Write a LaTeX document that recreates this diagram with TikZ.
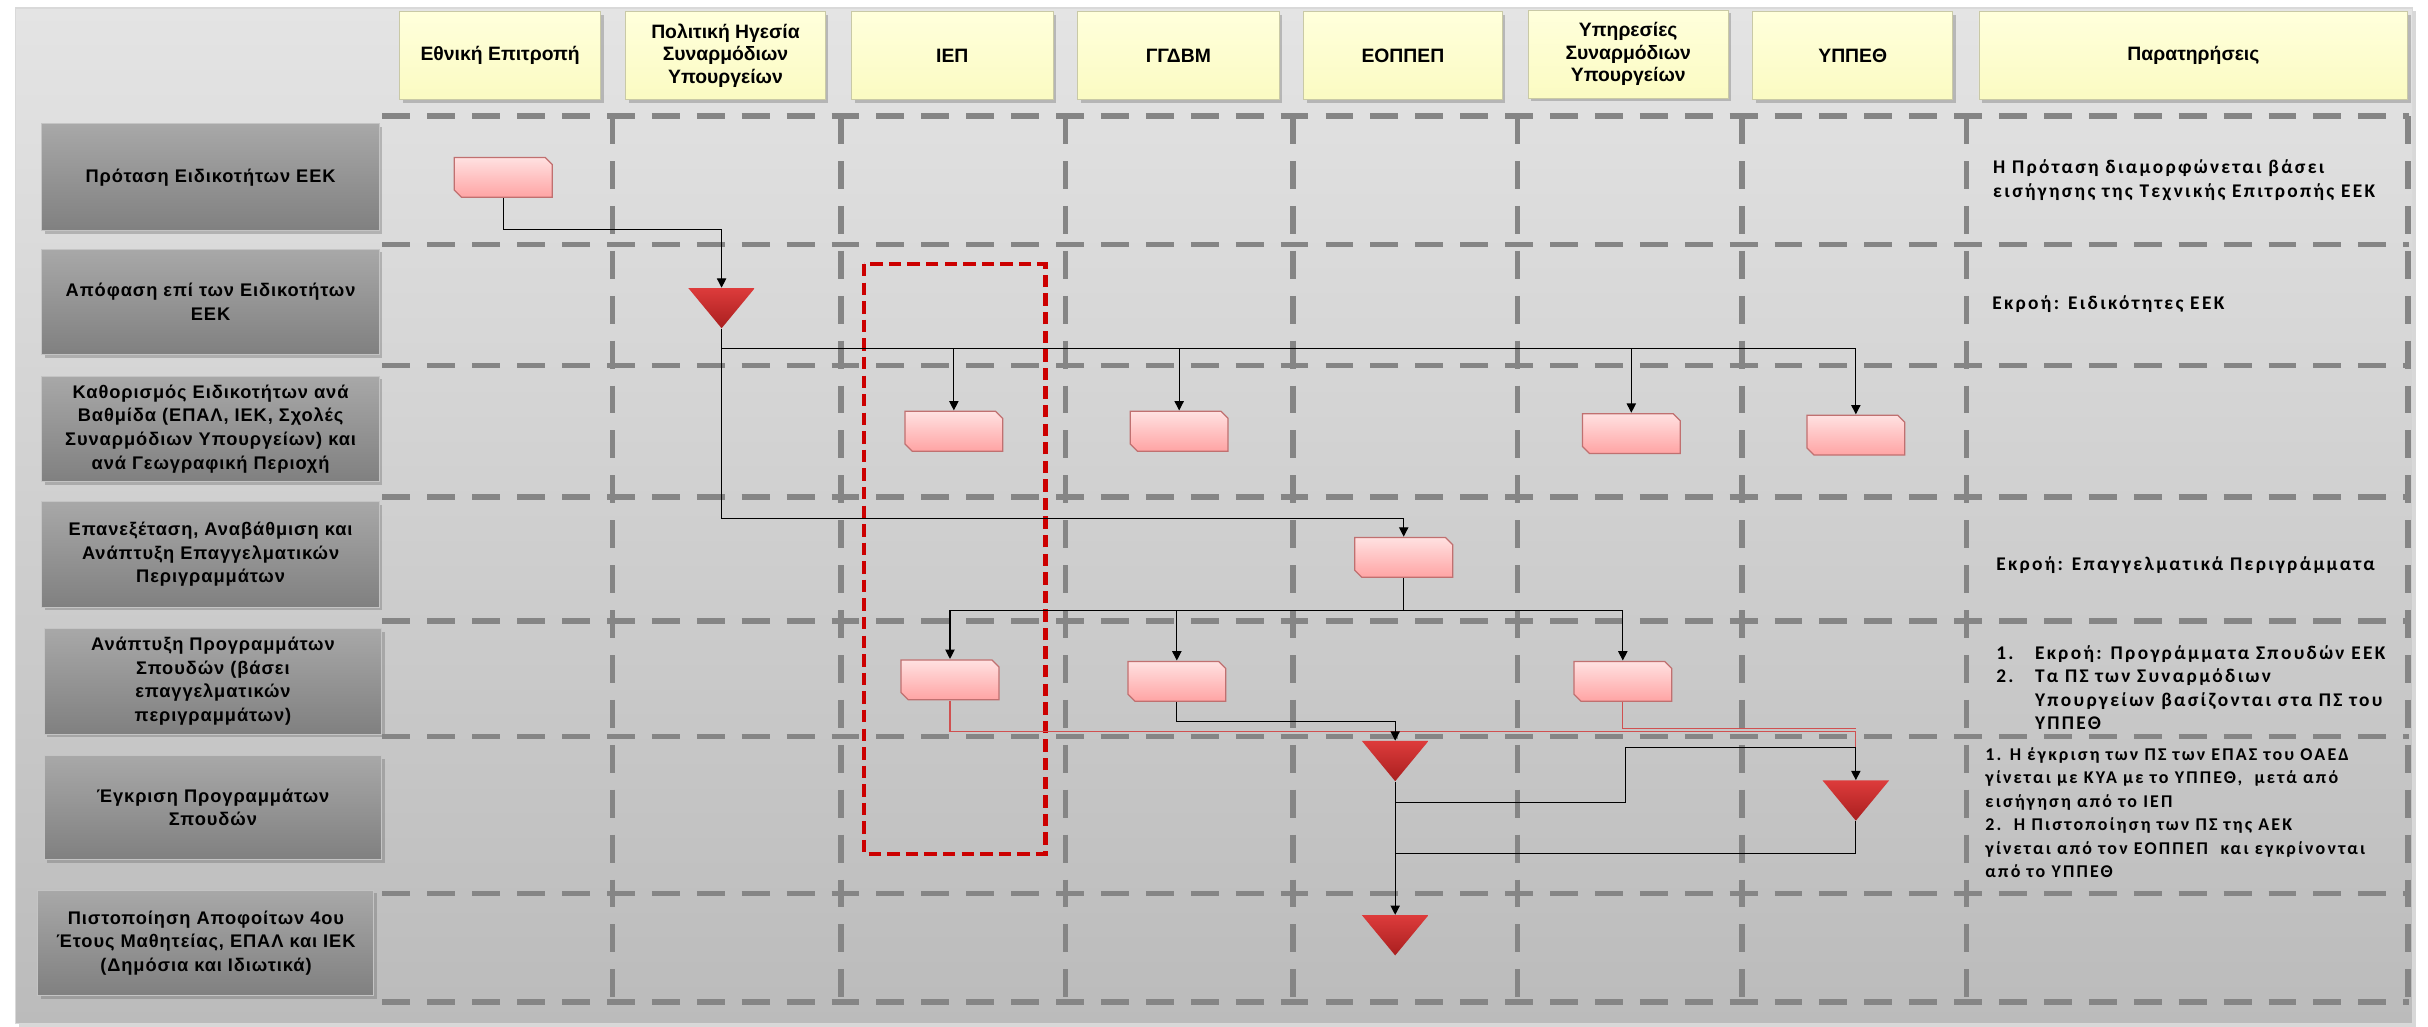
\documentclass[tikz,border=0pt]{standalone}
\usepackage{fontspec}
\setmainfont{Liberation Sans}
\newfontfamily\lblfont{Liberation Sans}[LetterSpace=5]
\newfontfamily\remfont{Carlito}[LetterSpace=12]
\usetikzlibrary{arrows.meta,shadows,calc}
\definecolor{panelTop}{HTML}{E4E4E4}
\definecolor{panelBot}{HTML}{BBBBBB}
\definecolor{hdrTop}{HTML}{FFFFDC}
\definecolor{hdrBot}{HTML}{FBFBC2}
\definecolor{hdrEdge}{HTML}{C9C9A6}
\definecolor{lblTop}{HTML}{A8A8A8}
\definecolor{lblBot}{HTML}{808080}
\definecolor{lblEdge}{HTML}{C4C4C4}
\definecolor{gridCol}{HTML}{858585}
\definecolor{pinkTop}{HTML}{FFE2E2}
\definecolor{pinkBot}{HTML}{FFA3A3}
\definecolor{pinkEdge}{HTML}{C07070}
\definecolor{triTop}{HTML}{DD3B3B}
\definecolor{triBot}{HTML}{A91F1F}
\definecolor{redLine}{HTML}{D05050}
\definecolor{dashRed}{HTML}{CC0000}
\tikzset{
  panel/.style={top color=panelTop, bottom color=panelBot, draw=white!85!black, line width=1.2pt,
    drop shadow={shadow xshift=2pt, shadow yshift=-2pt, opacity=0.3}},
  hdr/.style={draw=hdrEdge, line width=0.6pt, top color=hdrTop, bottom color=hdrBot,
    minimum height=57pt, inner sep=0pt, align=center,
    font=\bfseries\fontsize{12.5}{14.5}\selectfont,
    drop shadow={shadow xshift=2pt, shadow yshift=-2pt, opacity=0.35, fill=black!60}},
  lbl/.style={draw=lblEdge, line width=0.6pt, top color=lblTop, bottom color=lblBot,
    minimum width=218pt, inner sep=0pt, align=center,
    font=\lblfont\bfseries\fontsize{11.8}{15.2}\selectfont,
    drop shadow={shadow xshift=2pt, shadow yshift=-2pt, opacity=0.35, fill=black!60}},
  gridline/.style={draw=gridCol, line width=3.5pt, dash pattern=on 18pt off 11pt},
  pbox/.style={minimum width=64pt, minimum height=26.5pt, inner sep=0pt,
    path picture={
      \shade[top color=pinkTop, bottom color=pinkBot, draw=pinkEdge, line width=0.8pt]
        ([xshift=0.4pt,yshift=-0.4pt]path picture bounding box.north west)
        -- ([xshift=-5pt,yshift=-0.4pt]path picture bounding box.north east)
        -- ([xshift=-0.4pt,yshift=-5pt]path picture bounding box.north east)
        -- ([xshift=-0.4pt,yshift=0.4pt]path picture bounding box.south east)
        -- ([xshift=5pt,yshift=0.4pt]path picture bounding box.south west)
        -- ([xshift=0.4pt,yshift=5pt]path picture bounding box.south west)
        -- cycle;}},
  tri/.style={minimum width=43pt, minimum height=26pt, inner sep=0pt,
    path picture={\shade[top color=triTop, bottom color=triBot]
      (path picture bounding box.north west) -- (path picture bounding box.north east)
      -- (path picture bounding box.south) -- cycle;}},
  ln/.style={draw=black, line width=0.75pt},
  arr/.style={draw=black, line width=0.75pt, -{Triangle[length=6pt,width=6pt]}},
  rl/.style={draw=redLine, line width=0.75pt},
  rem/.style={anchor=north west, inner sep=0pt, align=left,
    font=\remfont\bfseries\fontsize{12.5}{15.2}\selectfont},
  remsmall/.style={rem, font=\remfont\bfseries\fontsize{11.6}{15.2}\selectfont},
  redbox/.style={draw=dashRed, line width=3pt, dash pattern=on 8pt off 4pt}
}
\begin{document}
\begin{tikzpicture}[x=1pt,y=-1pt]
\useasboundingbox (0,0) rectangle (1568,663);
\fill[white] (0,0) rectangle (1568,663);
% panel
\path[panel] (10,5) rectangle (1558,661);
% headers
\node[hdr, minimum width=130pt] (h1) at (323,36) {Εθνική Επιτροπή};
\node[hdr, minimum width=129pt] (h2) at (468.5,36) {Πολιτική Ηγεσία\\Συναρμόδιων\\Υπουργείων};
\node[hdr, minimum width=130pt] (h3) at (615,36) {ΙΕΠ};
\node[hdr, minimum width=130pt] (h4) at (761,36) {ΓΓΔΒΜ};
\node[hdr, minimum width=128pt] (h5) at (906,36) {ΕΟΠΠΕΠ};
\node[hdr, minimum width=129pt] (h6) at (1051.5,35) {Υπηρεσίες\\Συναρμόδιων\\Υπουργείων};
\node[hdr, minimum width=129pt] (h7) at (1196.5,36) {ΥΠΠΕΘ};
\node[hdr, minimum width=277pt] (h8) at (1416.5,36) {Παρατηρήσεις};
% row labels
\node[lbl, minimum height=69pt] (l1) at (136,114.5) {Πρόταση Ειδικοτήτων ΕΕΚ};
\node[lbl, minimum height=68pt] (l2) at (136,195) {Απόφαση επί των Ειδικοτήτων\\ΕΕΚ};
\node[lbl, minimum height=68pt] (l3) at (136,277) {Καθορισμός Ειδικοτήτων ανά\\Βαθμίδα (ΕΠΑΛ, ΙΕΚ, Σχολές\\Συναρμόδιων Υπουργείων) και\\ανά Γεωγραφική Περιοχή};
\node[lbl, minimum height=68pt] (l4) at (136,358) {Επανεξέταση, Αναβάθμιση και\\Ανάπτυξη Επαγγελματικών\\Περιγραμμάτων};
\node[lbl, minimum height=68pt] (l5) at (137.5,440) {Ανάπτυξη Προγραμμάτων\\Σπουδών (βάσει\\επαγγελματικών\\περιγραμμάτων)};
\node[lbl, minimum height=67pt] (l6) at (137.5,521.5) {Έγκριση Προγραμμάτων\\Σπουδών};
\node[lbl, minimum height=68pt, minimum width=217pt] (l7) at (133,609) {Πιστοποίηση Αποφοίτων 4ου\\Έτους Μαθητείας, ΕΠΑΛ και ΙΕΚ\\(Δημόσια και Ιδιωτικά)};
% dashed grid
\foreach \yy in {75,158,236,321,401,475.5,577,647}
  \draw[gridline] (247,\yy) -- (1556,\yy);
\foreach \xx in {395.5,543,688,835,980,1125,1270,1555}
  \draw[gridline] (\xx,75) -- (\xx,647);
% remarks
\node[rem] (r1) at (1287,103) {Η Πρόταση διαμορφώνεται βάσει\\εισήγησης της Τεχνικής Επιτροπής ΕΕΚ};
\node[rem, anchor=base west] (r2) at (1286.5,199.6) {Εκροή: Ειδικότητες ΕΕΚ};
\node[rem, anchor=base west] (r4) at (1289,368.5) {Εκροή: Επαγγελματικά Περιγράμματα};
\node[rem] (r5) at (1289,416.5) {\makebox[25pt][l]{1.}Εκροή: Προγράμματα Σπουδών ΕΕΚ\\
  \makebox[25pt][l]{2.}Τα ΠΣ των Συναρμόδιων\\
  \hspace*{25pt}Υπουργείων βασίζονται στα ΠΣ του\\
  \hspace*{25pt}ΥΠΠΕΘ};
\node[remsmall] (r6) at (1282,482.5) {1. Η έγκριση των ΠΣ των ΕΠΑΣ του ΟΑΕΔ\\
  γίνεται με ΚΥΑ με το ΥΠΠΕΘ,\ \ μετά από\\
  εισήγηση από το ΙΕΠ\\
  2.\ \ Η Πιστοποίηση των ΠΣ της ΑΕΚ\\
  γίνεται από τον ΕΟΠΠΕΠ\ \ και εγκρίνονται\\
  από το ΥΠΠΕΘ};
% red dashed frame
\draw[redbox] (558,170.5) rectangle (675,551.5);
% flow shapes
\node[pbox] (pA) at (325,114.5) {};
\node[tri] (t1) at (466,199) {};
\node[pbox] (p3a) at (616,278.5) {};
\node[pbox] (p3b) at (761.5,278.5) {};
\node[pbox] (p3c) at (1053.5,280) {};
\node[pbox] (p3d) at (1198.5,281) {};
\node[pbox] (p4) at (906.5,360) {};
\node[pbox] (p5a) at (613.5,439) {};
\node[pbox] (p5b) at (760,440) {};
\node[pbox] (p5c) at (1048,440) {};
\node[tri] (t2) at (901,491.5) {};
\node[tri] (t3) at (1198.5,517) {};
\node[tri] (t4) at (901,604) {};
% connectors
\coordinate (c1) at (466,148);
\draw[arr] (pA.south) |- (c1) -- (t1.north);
\coordinate (j1) at (466,225);
\draw[ln] (t1.south) -- (j1) -- (j1 -| p3d.north);
\foreach \n in {p3a,p3b,p3c,p3d} \draw[arr] (j1 -| \n.north) -- (\n.north);
\coordinate (j2) at (466,335);
\draw[arr] (j1) -- (j2) -| (p4.north);
\coordinate (j3) at (906.5,394);
\draw[ln] (p4.south) -- (j3);
\draw[ln] (j3 -| p5a.north) -- (j3 -| p5c.north);
\foreach \n in {p5a,p5b,p5c} \draw[arr] (j3 -| \n.north) -- (\n.north);
\coordinate (ra) at (1198.5,472.5);
\coordinate (rb) at (1198.5,470.5);
\coordinate (rc) at (1198.5,483);
\draw[rl] (p5a.south) |- (ra) -- (rc);
\draw[rl] (p5c.south) |- (rb);
\coordinate (k1) at (901,466);
\draw[arr] (p5b.south) |- (k1) -- (t2.north);
\draw[arr] (t2.south) -- (t4.north);
\coordinate (m1) at (901,518);
\coordinate (m2) at (1049.6,483);
\draw[arr] (m1) -| (m2) -| (t3.north);
\coordinate (m3) at (901,551);
\draw[ln] (t3.south) |- (m3);
\end{tikzpicture}
\end{document}
